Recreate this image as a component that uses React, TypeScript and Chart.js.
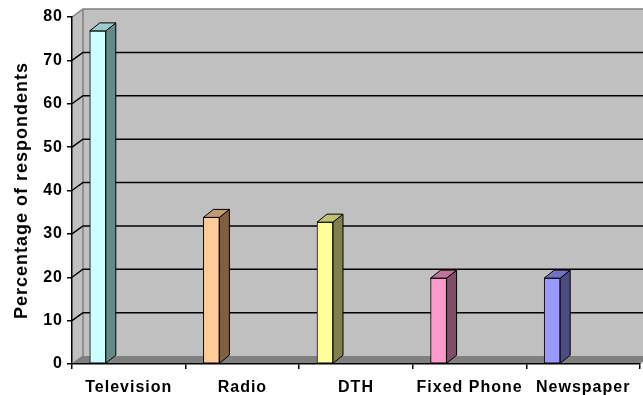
import React, { useEffect, useRef } from "react";
import { Chart, registerables } from "chart.js";

Chart.register(...registerables);

// ---- data ----
const categories = ["Television", "Radio", "DTH", "Fixed Phone", "Newspaper"];
const values = [76.8, 33.8, 32.7, 19.8, 19.8];
const frontColors = ["#CCFFFF", "#FFCC99", "#FFFF99", "#FF99CC", "#9999FF"];
const sideColors = ["#668A88", "#806040", "#80804C", "#804C66", "#4C4C80"];
const topColors = ["#99CCCC", "#C09A70", "#C0C070", "#C0739A", "#7373C0"];
const yMin = 0;
const yMax = 80;
const yStep = 10;
const yTitle = "Percentage of respondents";

// ---- style constants ----
const FONT = "Arial, 'Liberation Sans', sans-serif";
const WALL_DX = 11;
const WALL_DY = -8;
const BAR_DX = 10;
const BAR_DY = -8;
const BAR_SHIFT = 0.273; // bars sit left of the category centre (Excel 3D look)

const threeD = {
  id: "threeD",
  beforeLayout(chart: any) {
    chart.ctx.letterSpacing = "1px";
  },
  beforeDraw(chart: any) {
    const ctx = chart.ctx;
    ctx.letterSpacing = "1px";
    const { left: L, right: R, top: T, bottom: B } = chart.chartArea;
    const ys = chart.scales.y;
    ctx.save();
    // back wall
    ctx.fillStyle = "#C0C0C0";
    ctx.fillRect(L + WALL_DX, T + WALL_DY, R - L, B - T);
    // side wall
    ctx.beginPath();
    ctx.moveTo(L, T);
    ctx.lineTo(L + WALL_DX, T + WALL_DY);
    ctx.lineTo(L + WALL_DX, B + WALL_DY);
    ctx.lineTo(L, B);
    ctx.closePath();
    ctx.fill();
    // floor
    ctx.fillStyle = "#808080";
    ctx.beginPath();
    ctx.moveTo(L, B);
    ctx.lineTo(L + WALL_DX, B + WALL_DY);
    ctx.lineTo(R + WALL_DX, B + WALL_DY);
    ctx.lineTo(R, B);
    ctx.closePath();
    ctx.fill();
    // wall edges
    ctx.strokeStyle = "#808080";
    ctx.lineWidth = 1.5;
    ctx.beginPath();
    ctx.moveTo(L, T);
    ctx.lineTo(L + WALL_DX, T + WALL_DY);
    ctx.lineTo(R + WALL_DX, T + WALL_DY);
    ctx.moveTo(L + WALL_DX, T + WALL_DY);
    ctx.lineTo(L + WALL_DX, B + WALL_DY);
    ctx.moveTo(L, B);
    ctx.lineTo(L + WALL_DX, B + WALL_DY);
    ctx.stroke();
    // gridlines on side + back wall
    ctx.strokeStyle = "#000";
    ctx.lineWidth = 1.5;
    ys.ticks.forEach((t: any) => {
      if (t.value <= ys.min || t.value >= ys.max) return;
      const y = ys.getPixelForValue(t.value);
      ctx.beginPath();
      ctx.moveTo(L, y);
      ctx.lineTo(L + WALL_DX, y + WALL_DY);
      ctx.lineTo(R + WALL_DX, y + WALL_DY);
      ctx.stroke();
    });
    ctx.restore();
  },
  afterDatasetsDraw(chart: any) {
    const ctx = chart.ctx;
    const meta = chart.getDatasetMeta(0);
    ctx.save();
    ctx.strokeStyle = "#000";
    ctx.lineWidth = 1;
    ctx.lineJoin = "round";
    meta.data.forEach((bar: any, i: number) => {
      const { x, y, base, width } = bar.getProps(["x", "y", "base", "width"], true);
      const l = x - width / 2;
      const r = x + width / 2;
      // side face
      ctx.fillStyle = sideColors[i];
      ctx.beginPath();
      ctx.moveTo(r, y);
      ctx.lineTo(r + BAR_DX, y + BAR_DY);
      ctx.lineTo(r + BAR_DX, base + BAR_DY);
      ctx.lineTo(r, base);
      ctx.closePath();
      ctx.fill();
      ctx.stroke();
      // top face
      ctx.fillStyle = topColors[i];
      ctx.beginPath();
      ctx.moveTo(l, y);
      ctx.lineTo(l + BAR_DX, y + BAR_DY);
      ctx.lineTo(r + BAR_DX, y + BAR_DY);
      ctx.lineTo(r, y);
      ctx.closePath();
      ctx.fill();
      ctx.stroke();
    });
    ctx.restore();
  },
};

export default function App() {
  const ref = useRef<HTMLCanvasElement>(null);
  useEffect(() => {
    if (!ref.current) return;
    const n = categories.length;
    const chart = new Chart(ref.current, {
      type: "bar",
      data: {
        labels: categories,
        datasets: [
          {
            data: values.map((v, i) => ({ x: i, y: v })) as any,
            xAxisID: "xb",
            yAxisID: "y",
            backgroundColor: frontColors,
            borderColor: "#000",
            borderWidth: 1,
            borderSkipped: false,
            barThickness: 16,
          },
        ],
      },
      options: {
        responsive: false,
        animation: false,
        layout: { padding: { top: 17, right: 3, left: 0, bottom: 0 } },
        plugins: { legend: { display: false }, tooltip: { enabled: false } },
        scales: {
          x: {
            type: "category",
            labels: categories,
            offset: true,
            grid: {
              offset: true,
              drawOnChartArea: false,
              drawTicks: true,
              tickLength: 5,
              color: "#000",
              lineWidth: 1.5,
            },
            border: { display: true, color: "#000", width: 1.5 },
            ticks: {
              color: "#000",
              font: { family: FONT, size: 16, weight: "bold" },
              padding: 9,
              maxRotation: 0,
              autoSkip: false,
            },
            afterFit: (s: any) => {
              s.height = 31;
            },
          },
          xb: {
            type: "linear",
            display: false,
            offset: false,
            min: -0.5 + BAR_SHIFT,
            max: n - 0.5 + BAR_SHIFT,
          },
          y: {
            min: yMin,
            max: yMax,
            ticks: {
              stepSize: yStep,
              color: "#000",
              font: { family: FONT, size: 16, weight: "bold" },
              padding: 4,
            },
            grid: {
              drawOnChartArea: false,
              drawTicks: true,
              tickLength: 5,
              color: "#000",
              lineWidth: 1.5,
            },
            border: { display: true, color: "#000", width: 1.5 },
            title: {
              display: true,
              text: yTitle,
              color: "#000",
              font: { family: FONT, size: 18, weight: "bold" },
              padding: { top: 11, bottom: 0 },
            },
            afterFit: (s: any) => {
              s.width = 72;
            },
          },
        },
      } as any,
      plugins: [threeD],
    });
    return () => chart.destroy();
  }, []);
  return (
    <div style={{ position: "fixed", left: 0, top: 0, width: 643, height: 395, background: "#fff" }}>
      <canvas ref={ref} width={643} height={395} style={{ display: "block" }} />
    </div>
  );
}
